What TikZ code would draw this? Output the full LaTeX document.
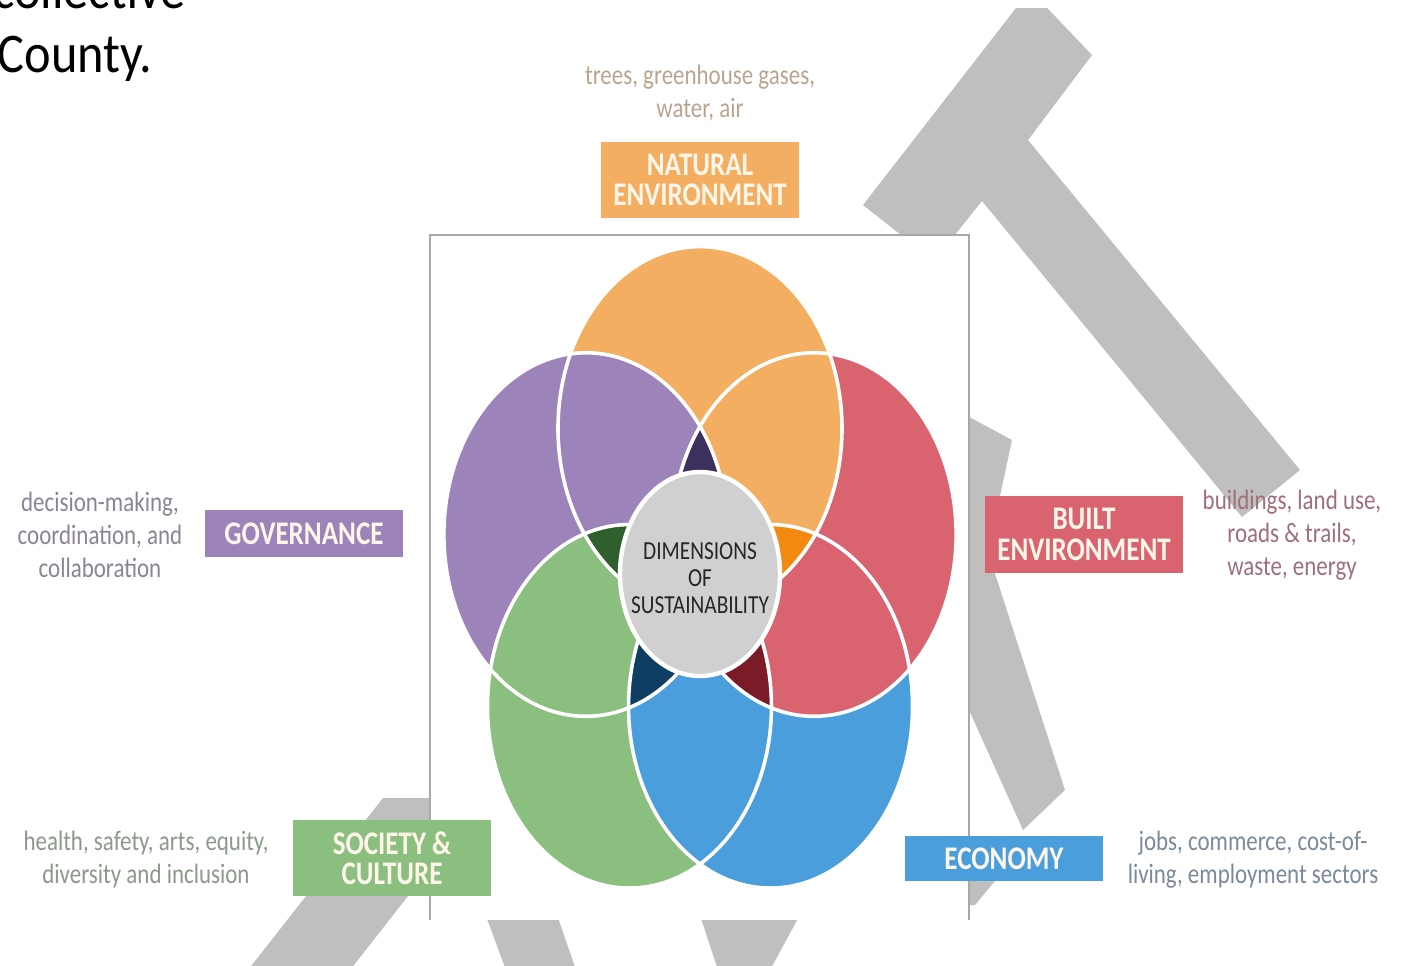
\documentclass[tikz,border=0pt]{standalone}
\usepackage{fontspec}
\setmainfont{Carlito}
\definecolor{wm}{HTML}{BFBFBF}
\definecolor{boxline}{HTML}{A8A8A8}
\definecolor{corange}{HTML}{F4AE62}
\definecolor{cpurple}{HTML}{9C84BB}
\definecolor{cred}{HTML}{D9646F}
\definecolor{cgreen}{HTML}{8BBF7F}
\definecolor{cblue}{HTML}{4A9EDB}
\definecolor{dpurple}{HTML}{3C305E}
\definecolor{dorange}{HTML}{F28A10}
\definecolor{dred}{HTML}{7B1B28}
\definecolor{dblue}{HTML}{0E3F63}
\definecolor{dgreen}{HTML}{2F5F2C}
\definecolor{ccenter}{HTML}{D0D0D0}
\definecolor{tnat}{HTML}{B8A590}
\definecolor{tgov}{HTML}{8C8494}
\definecolor{tbuilt}{HTML}{A07078}
\definecolor{tsoc}{HTML}{8A9A88}
\definecolor{teco}{HTML}{7A8A9A}
\definecolor{lbltxt}{HTML}{FFF6EA}
\def\petR{120}
\def\petr{142}
\begin{document}
\begin{tikzpicture}[x=0.5pt,y=-0.5pt,
  lblbox/.style={xscale=0.82, inner sep=0pt, minimum width=120.73pt, align=center,
    text=lbltxt, font=\fontsize{16.5}{15.2}\selectfont\bfseries},
  desc/.style={xscale=0.82, align=center, inner sep=0pt,
    font=\fontsize{14}{16.5}\selectfont},
  petal/.style={line width=1.8pt, draw=white}]
\useasboundingbox (0,0) rectangle (1409,965);
\clip (0,0) rectangle (1409,965);
\fill[white] (0,0) rectangle (1409,965);

% watermark shapes
\begin{scope}
\clip (0,8) rectangle (1409,965);
\fill[wm] (863,205) -- (1030,-10) -- (1092,55) -- (1028,140) -- (1300,470) -- (1242,517) -- (982,201) -- (934,261) -- cycle;
\end{scope}
\fill[wm] (960,412) -- (1012,440) -- (988,552) -- (1065,790) -- (1023,830) -- (960,690) -- cycle;
\fill[wm] (962,881) -- (995,881) -- (975,905) -- (962,905) -- cycle;
\fill[wm] (383,798) -- (485,798) -- (350,970) -- (248,970) -- cycle;
\fill[wm] (480,900) -- (552,900) -- (576,970) -- (506,970) -- cycle;
\fill[wm] (695,900) -- (808,900) -- (770,970) -- (718,970) -- cycle;

% inner box
\fill[white] (430,235) rectangle (969,920);
\draw[boxline, line width=0.8pt] (430,920) -- (430,235) -- (969,235) -- (969,920);

% top-left text
\node[anchor=base east, xscale=0.9, inner sep=0pt, font=\fontsize{28}{32}\selectfont] (coll) at (186,8) {collective};
\node[anchor=base east, xscale=0.9, inner sep=0pt, font=\fontsize{28}{32}\selectfont] (county) at (153,72) {County.};

% flower
\begin{scope}[shift={(700,582)}, yscale=-1.28]
\coordinate (cO) at (90:\petR);
\coordinate (cP) at (162:\petR);
\coordinate (cG) at (234:\petR);
\coordinate (cB) at (306:\petR);
\coordinate (cR) at (18:\petR);
\fill[cgreen] (cG) circle[radius=\petr];
\fill[cblue] (cB) circle[radius=\petr];
\fill[cred] (cR) circle[radius=\petr];
\fill[corange] (cO) circle[radius=\petr];
\fill[cpurple] (cP) circle[radius=\petr];
\begin{scope}\clip (cP) circle[radius=\petr]; \fill[cgreen] (cG) circle[radius=\petr];\end{scope}
\begin{scope}\clip (cP) circle[radius=\petr]; \fill[dpurple] (cR) circle[radius=\petr];\end{scope}
\begin{scope}\clip (cO) circle[radius=\petr]; \fill[dorange] (cB) circle[radius=\petr];\end{scope}
\begin{scope}\clip (cR) circle[radius=\petr]; \fill[dred] (cG) circle[radius=\petr];\end{scope}
\begin{scope}\clip (cB) circle[radius=\petr]; \fill[dblue] (cP) circle[radius=\petr];\end{scope}
\begin{scope}\clip (cG) circle[radius=\petr]; \fill[dgreen] (cO) circle[radius=\petr];\end{scope}
\foreach \c in {cG,cB,cR,cO,cP} \draw[petal] (\c) circle[radius=\petr];
\end{scope}
\fill[ccenter, draw=white, line width=2.2pt] (700,574) ellipse[x radius=80, y radius=102];
\node[xscale=0.82, align=center, inner sep=0pt, text=black!85, font=\fontsize{13}{13.5}\selectfont] (center) at (700,578) {DIMENSIONS\\OF\\SUSTAINABILITY};

% label boxes
\node[lblbox, fill=corange, minimum height=38pt] (nat) at (700,180) {NATURAL\\ENVIRONMENT};
\node[lblbox, fill=cpurple, minimum height=23.5pt] (gov) at (304,533.5) {GOVERNANCE};
\node[lblbox, fill=cred, minimum height=38.5pt] (built) at (1084,534.5) {BUILT\\ENVIRONMENT};
\node[lblbox, fill=cgreen, minimum height=38pt] (soc) at (392,858) {SOCIETY \&\\CULTURE};
\node[lblbox, fill=cblue, minimum height=22.5pt] (eco) at (1004,858.5) {ECONOMY};

% descriptions
\node[desc, text=tnat] (natd) at (700,93) {trees, greenhouse gases,\\water, air};
\node[desc, text=tgov] (govd) at (100,535) {decision-making,\\coordination, and\\collaboration};
\node[desc, text=tbuilt] (builtd) at (1292,535) {buildings, land use,\\roads \& trails,\\waste, energy};
\node[desc, text=tsoc] (socd) at (146,860) {health, safety, arts, equity,\\diversity and inclusion};
\node[desc, text=teco] (ecod) at (1253,860) {jobs, commerce, cost-of-\\living, employment sectors};
\end{tikzpicture}
\end{document}
